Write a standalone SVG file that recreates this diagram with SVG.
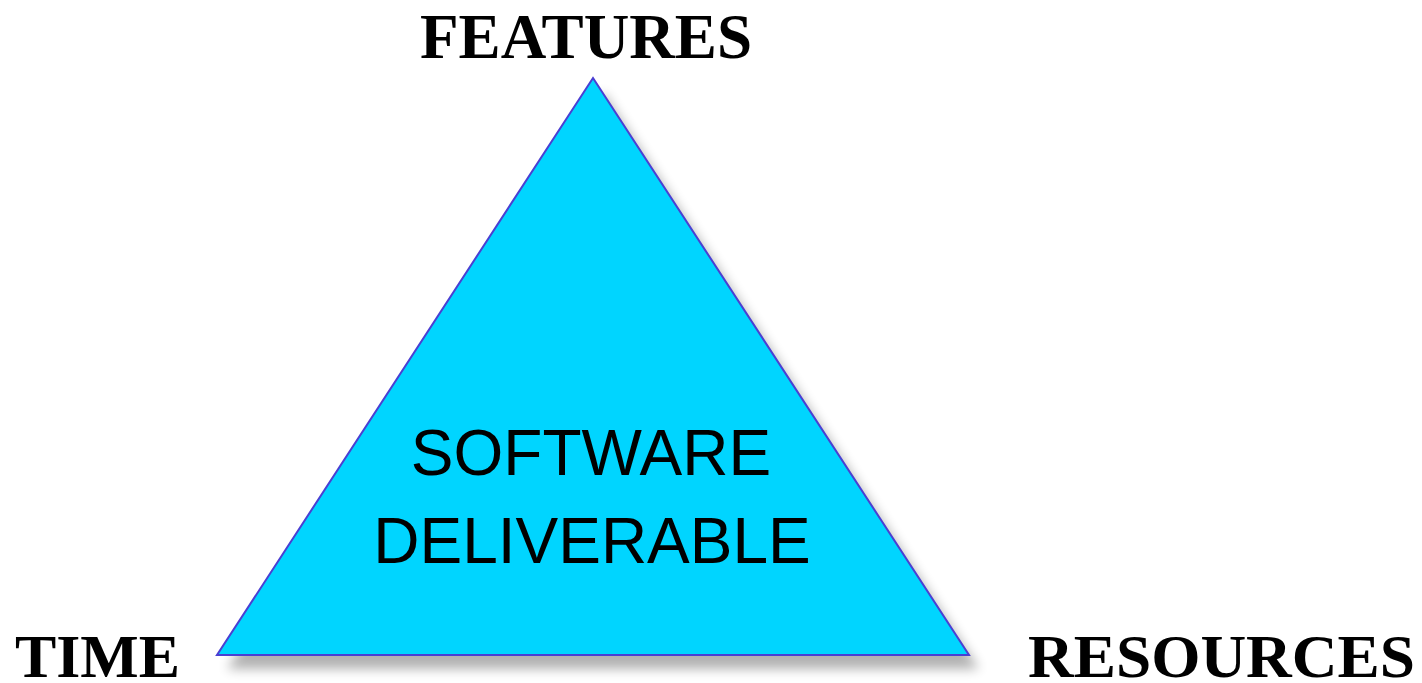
<svg xmlns="http://www.w3.org/2000/svg" width="1422" height="683" viewBox="0 0 1422 683">
  <style>
    .corner { font-family: "Liberation Serif", "Times New Roman", serif; font-weight: bold; fill: #000; }
    .inner { font-family: "Liberation Sans", Arial, sans-serif; font-size: 64px; fill: #000; text-anchor: middle; }
  </style>
  <defs>
    <filter id="drop" x="-10%" y="-10%" width="130%" height="130%">
      <feGaussianBlur stdDeviation="6"/>
    </filter>
  </defs>
  <g id="triangle">
    <polygon points="603,92 979,669 227,669" fill="#000" opacity="0.3" filter="url(#drop)"/>
    <polygon points="593,78 969,655 217,655" fill="#00D5FF" stroke="#4A3FD2" stroke-width="2" stroke-linejoin="miter"/>
    <text class="inner" x="591" y="475">SOFTWARE</text>
    <text class="inner" x="592" y="563">DELIVERABLE</text>
  </g>
  <g id="features"><text class="corner" x="420" y="58" font-size="64" textLength="332" lengthAdjust="spacingAndGlyphs">FEATURES</text></g>
  <g id="time"><text class="corner" x="15" y="677" font-size="62" textLength="165" lengthAdjust="spacingAndGlyphs">TIME</text></g>
  <g id="resources"><text class="corner" x="1028" y="677" font-size="62" textLength="387" lengthAdjust="spacingAndGlyphs">RESOURCES</text></g>
  <g id="connectors"/>
</svg>
